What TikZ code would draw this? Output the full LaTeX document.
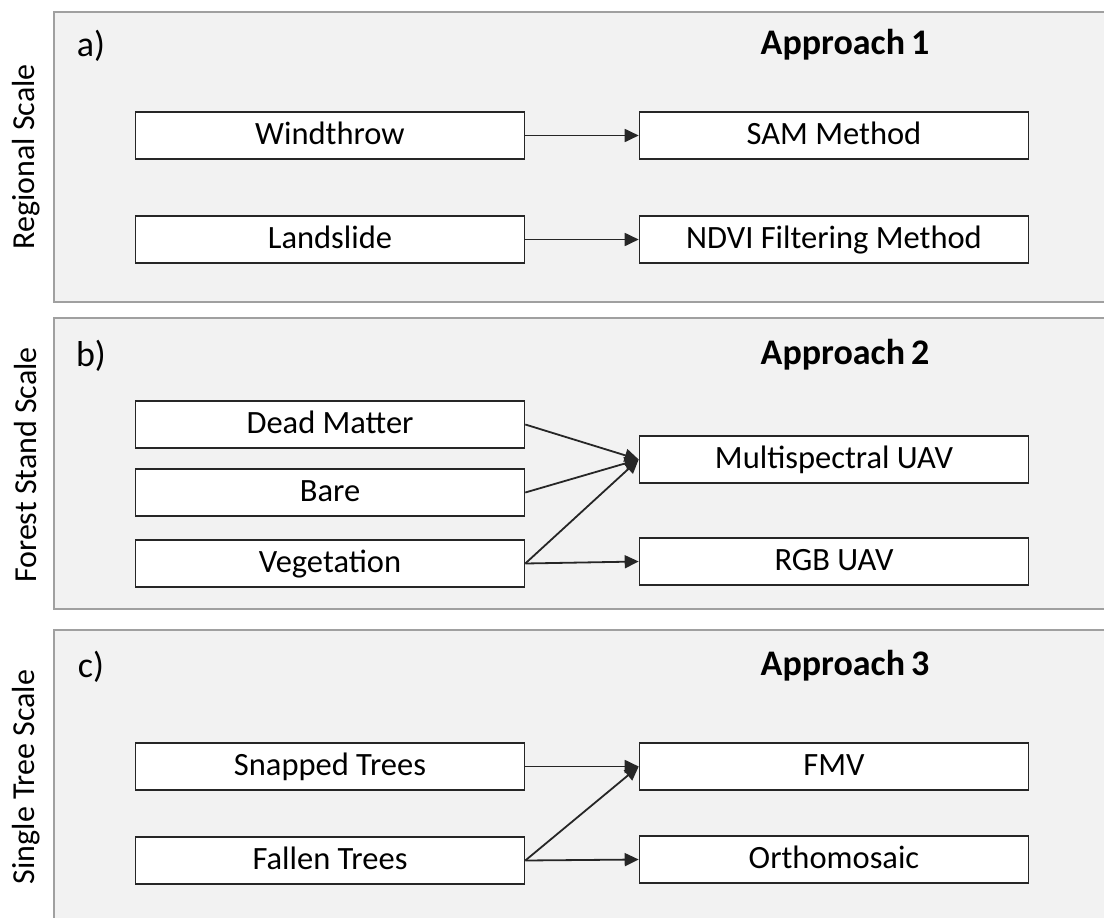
\documentclass[tikz,border=0pt]{standalone}
\usepackage{fontspec}
\setmainfont{Carlito}
\usetikzlibrary{arrows.meta}
\definecolor{panelfill}{HTML}{F2F2F2}
\definecolor{panelline}{HTML}{A0A0A0}
\definecolor{arrowcol}{HTML}{262626}
\tikzset{
  panel/.style={draw=panelline, fill=panelfill, line width=1.6pt},
  box/.style={draw=black!85, fill=white, line width=1.6pt, minimum width=389pt, minimum height=47pt, inner sep=0pt, text height=22pt, text depth=5pt, font=\fontsize{32.5}{36}\selectfont},
  sidelabel/.style={rotate=90, font=\fontsize{32}{36}\selectfont, inner sep=0pt},
  panellabel/.style={font=\fontsize{36}{40}\selectfont, inner sep=0pt},
  approach/.style={font=\bfseries\fontsize{36}{40}\selectfont, inner sep=0pt},
  conn/.style={draw=arrowcol, line width=1.8pt, -{Triangle[length=14pt,width=13pt]}}
}
\begin{document}
\begin{tikzpicture}[x=1pt,y=-1pt]
\useasboundingbox (0,0) rectangle (1104,918);
% panels
\draw[panel] (54,12) rectangle (1115,302);
\draw[panel] (54,318) rectangle (1115,609);
\draw[panel] (54,630) rectangle (1115,930);
% side labels
\node[sidelabel] (sa) at (26,157) {Regional Scale};
\node[sidelabel] (sb) at (26,465) {Forest Stand Scale};
\node[sidelabel] (sc) at (26,777) {Single Tree Scale};
% panel labels
\node[panellabel] (la) at (91,46) {a)};
\node[panellabel] (lb) at (91,356) {b)};
\node[panellabel] (lc) at (91,667) {c)};
\node[approach] (aa) at (845,45) {Approach\,1};
\node[approach] (ab) at (845,355) {Approach\,2};
\node[approach] (ac) at (845,666) {Approach\,3};
% panel a boxes
\node[box] (wind) at (330,135.5) {Windthrow};
\node[box] (land) at (330,239.5) {Landslide};
\node[box] (sam) at (834,135.5) {SAM Method};
\node[box] (ndvi) at (834,239.5) {NDVI Filtering Method};
% panel b boxes
\node[box] (dead) at (330,424.5) {Dead Matter};
\node[box] (bare) at (330,492.5) {Bare};
\node[box] (veg) at (330,563.5) {Vegetation};
\node[box] (multi) at (834,459.5) {Multispectral UAV};
\node[box] (rgb) at (834,561.5) {RGB UAV};
% panel c boxes
\node[box] (snap) at (330,766.5) {Snapped Trees};
\node[box] (fall) at (330,860.5) {Fallen Trees};
\node[box] (fmv) at (834,766.5) {FMV};
\node[box] (ortho) at (834,859.5) {Orthomosaic};
% connectors
\draw[conn] (wind.east) -- (sam.west);
\draw[conn] (land.east) -- (ndvi.west);
\draw[conn] (dead.east) -- (multi.west);
\draw[conn] (bare.east) -- (multi.west);
\draw[conn] (veg.east) -- (multi.west);
\draw[conn] (veg.east) -- (rgb.west);
\draw[conn] (snap.east) -- (fmv.west);
\draw[conn] (fall.east) -- (fmv.west);
\draw[conn] (fall.east) -- (ortho.west);
\end{tikzpicture}
\end{document}
